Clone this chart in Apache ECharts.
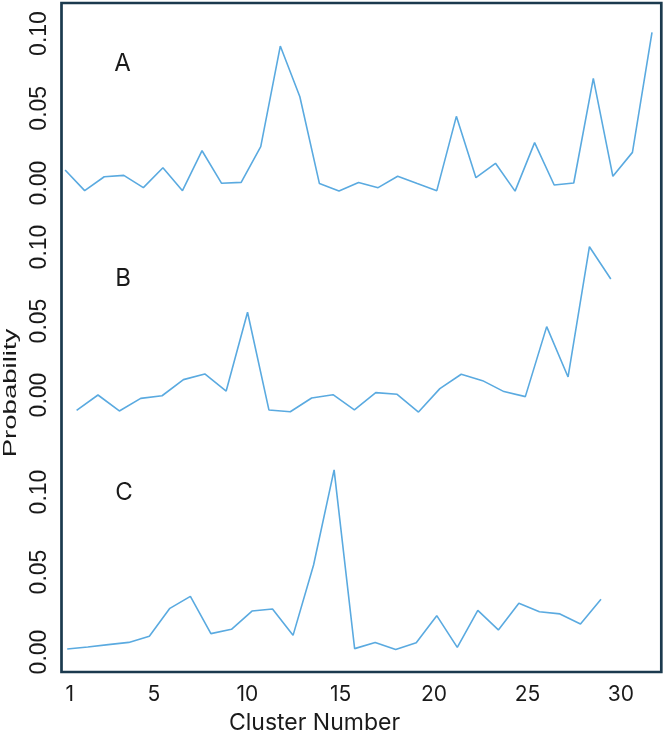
<!DOCTYPE html>
<html>
<head>
<meta charset="utf-8">
<script src="https://cdn.jsdelivr.net/npm/echarts@6/dist/echarts.min.js"></script>
<style>
  html, body { margin: 0; padding: 0; background: #ffffff; }
  #chart { width: 666px; height: 733px; }
</style>
</head>
<body>
<div id="chart"></div>
<script>
// ---- Data ----
var clustersA = [1,2,3,4,5,6,7,8,9,10,11,12,13,14,15,16,17,18,19,20,21,22,23,24,25,26,27,28,29,30,31];
var probA = [0.0087, -0.0051, 0.0042, 0.0051, -0.0031, 0.0102, -0.0051, 0.0216, -0.0002, 0.0004,
             0.0243, 0.0916, 0.0577, -0.0004, -0.0054, 0.0004, -0.0031, 0.0045, -0.0004, -0.0051,
             0.0446, 0.0036, 0.0132, -0.0054, 0.0270, -0.0013, 0.0000, 0.0700, 0.0045, 0.0205, 0.1008];

var clustersB = [1,2,3,4,5,6,7,8,9,10,11,12,13,14,15,16,17,18,19,20,21,22,23,24,25,26];
var probB = [-0.0104, 0.0000, -0.0108, -0.0023, -0.0005, 0.0104, 0.0142, 0.0027, 0.0559, -0.0101,
             -0.0113, -0.0020, 0.0002, -0.0101, 0.0016, 0.0005, -0.0115, 0.0043, 0.0140, 0.0097,
             0.0023, -0.0011, 0.0462, 0.0122, 0.1002, 0.0784];

var clustersC = [1,2,3,4,5,6,7,8,9,10,11,12,13,14,15,16,17,18,19,20,21,22,23,24,25,26,27];
var probC = [0.0019, 0.0031, 0.0046, 0.0060, 0.0098, 0.0273, 0.0348, 0.0115, 0.0142, 0.0256,
             0.0269, 0.0104, 0.0544, 0.1138, 0.0021, 0.0060, 0.0015, 0.0058, 0.0227, 0.0029,
             0.0260, 0.0138, 0.0304, 0.0252, 0.0238, 0.0175, 0.0329];

var xTickLabels = [1, 5, 10, 15, 20, 25, 30];
var yTickLabels = [0, 0.05, 0.10];
var panelLetters = ['A', 'B', 'C'];

// ---- Styles ----
var lineColor = '#5aaae0';
var frameColor = '#1b3a4e';
var textColor = '#1a1a1a';
var tickFont = '"Liberation Sans", Arial, sans-serif';
var uiFont = 'Inter, "Noto Sans", sans-serif';

var frameLeft = 61.5;
var panels = [
  { left: 65.1, right: 14.0, top: 3.6,  bottom: 512.6, min: -0.025, max: 0.12,  cats: clustersA, data: probA },
  { left: 76.6, right: 55.2, top: 217.4, bottom: 293.6, min: -0.03,  max: 0.12,  cats: clustersB, data: probB },
  { left: 67.2, right: 65.0, top: 436.0, bottom: 61.0,  min: -0.0125, max: 0.135, cats: clustersC, data: probC }
];

var grids = [], xAxes = [], yAxes = [], series = [];

// frame grid (index 0)
grids.push({ left: frameLeft, right: 4.7, top: 3, bottom: 61, show: true,
             borderColor: frameColor, borderWidth: 2.7, backgroundColor: 'transparent' });
xAxes.push({ gridIndex: 0, type: 'value', min: 0, max: 1, show: false });
yAxes.push({ gridIndex: 0, type: 'value', min: 0, max: 1, show: false });

panels.forEach(function (p, i) {
  var gi = i + 1;
  grids.push({ left: p.left, right: p.right, top: p.top, bottom: p.bottom, show: false });
  xAxes.push({ gridIndex: gi, type: 'category', data: p.cats, boundaryGap: false, show: false });
  yAxes.push({
    gridIndex: gi, type: 'value', min: p.min, max: p.max,
    offset: p.left - frameLeft,
    axisLine: { show: false }, axisTick: { show: false }, splitLine: { show: false },
    axisLabel: {
      customValues: yTickLabels,
      rotate: 90, margin: 10,
      fontSize: 23, fontFamily: tickFont, color: textColor,
      formatter: function (v) { return v.toFixed(2); }
    }
  });
  series.push({
    type: 'line', xAxisIndex: gi, yAxisIndex: gi, data: p.data,
    symbol: 'none', smooth: false, animation: false,
    lineStyle: { color: lineColor, width: 1.6 }
  });
});

// bottom label axis (index 4)
grids.push({ left: 79.3, right: 45.2, top: 3, bottom: 61, show: false });
xAxes.push({
  gridIndex: 4, type: 'value', min: 1, max: 30, position: 'bottom',
  axisLine: { show: false }, axisTick: { show: false }, splitLine: { show: false },
  axisLabel: {
    customValues: xTickLabels, margin: 12,
    fontSize: 21, fontFamily: uiFont, color: textColor,
    formatter: function (v) { return v === 1 ? '{first|1}' : String(v); },
    rich: { first: { padding: [0, 19, 0, 0], fontSize: 21, fontFamily: uiFont, color: textColor } }
  }
});
yAxes.push({ gridIndex: 4, type: 'value', min: 0, max: 1, show: false });

var letterPos = [[122.5, 64], [123, 279], [124, 493]];
var graphics = panelLetters.map(function (t, i) {
  return { type: 'text', x: letterPos[i][0], y: letterPos[i][1], silent: true,
    style: { text: t, fontSize: 24, fontFamily: uiFont, fill: textColor,
             align: 'center', verticalAlign: 'middle', textAlign: 'center', textVerticalAlign: 'middle' } };
});
graphics.push({ type: 'text', x: 314.5, y: 723.5, silent: true,
  style: { text: 'Cluster Number', fontSize: 23, fontFamily: uiFont, fill: textColor,
           align: 'center', verticalAlign: 'middle', textAlign: 'center', textVerticalAlign: 'middle' } });
graphics.push({ type: 'text', x: 10.5, y: 393, rotation: Math.PI / 2, scaleX: 1.45, silent: true,
  style: { text: 'Probability', fontSize: 19, fontFamily: tickFont, fill: textColor,
           align: 'center', verticalAlign: 'middle', textAlign: 'center', textVerticalAlign: 'middle' } });

var chart = echarts.init(document.getElementById('chart'), null, { renderer: 'canvas' });
chart.setOption({
  animation: false,
  backgroundColor: '#ffffff',
  grid: grids,
  xAxis: xAxes,
  yAxis: yAxes,
  series: series,
  graphic: graphics
});
</script>
</body>
</html>
